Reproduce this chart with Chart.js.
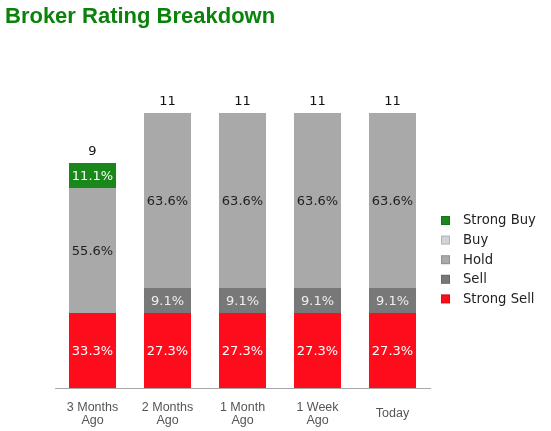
<!DOCTYPE html>
<html>
<head>
<meta charset="utf-8">
<script src="https://cdn.jsdelivr.net/npm/chart.js@4/dist/chart.umd.min.js"></script>
<style>
html,body{margin:0;padding:0;background:#fff;}
#wrap{width:551px;height:431px;position:relative;}
</style>
</head>
<body>
<div id="wrap"><canvas id="c" width="551" height="431"></canvas></div>
<script>
const categories = [["3 Months","Ago"],["2 Months","Ago"],["1 Month","Ago"],["1 Week","Ago"],"Today"];
const seriesNames = ["Strong Sell","Sell","Hold","Buy","Strong Buy"];
const strongSell = [3,3,3,3,3];
const sell = [0,1,1,1,1];
const hold = [5,7,7,7,7];
const buy = [0,0,0,0,0];
const strongBuy = [1,0,0,0,0];
const seriesColors = ["#fe0c1c","#787878","#a9a9a9","#d3d3d3","#1a871a"];
const labelColors = ["#ffffff","#eeeeee","#222222","#222222","#ffffff"];

const seriesValues = [strongSell, sell, hold, buy, strongBuy];
const totals = categories.map((_, i) => seriesValues.reduce((s, arr) => s + arr[i], 0));

const labelsPlugin = {
  id: 'barLabels',
  afterDatasetsDraw(chart) {
    const ctx = chart.ctx;
    ctx.save();
    ctx.font = '13px "DejaVu Sans"';
    ctx.textAlign = 'center';
    ctx.textBaseline = 'middle';
    const topY = categories.map(() => Infinity);
    const xs = categories.map(() => 0);
    chart.data.datasets.forEach((ds, di) => {
      const meta = chart.getDatasetMeta(di);
      meta.data.forEach((bar, i) => {
        const v = ds.data[i];
        xs[i] = bar.x;
        if (!v) return;
        topY[i] = Math.min(topY[i], bar.y);
        const pct = (v / totals[i] * 100).toFixed(1) + '%';
        ctx.fillStyle = labelColors[di];
        ctx.fillText(pct, bar.x, (bar.y + bar.base) / 2 + 1);
      });
    });
    ctx.fillStyle = '#111';
    totals.forEach((t, i) => {
      ctx.fillText(String(t), xs[i], topY[i] - 11);
    });
    ctx.restore();
  }
};

const legendPlugin = {
  id: 'sideLegend',
  afterDraw(chart) {
    const ctx = chart.ctx;
    const x0 = chart.chartArea.right + 11;
    const y0 = 220.5;
    const step = 19.6;
    ctx.save();
    ctx.font = '13.2px "DejaVu Sans"';
    ctx.textAlign = 'left';
    ctx.textBaseline = 'middle';
    const n = seriesNames.length;
    for (let k = 0; k < n; k++) {
      const di = n - 1 - k;
      const y = y0 + k * step;
      ctx.fillStyle = seriesColors[di];
      ctx.fillRect(x0, y - 4.5, 9, 9);
      ctx.strokeStyle = 'rgba(0,0,0,0.15)';
      ctx.lineWidth = 1;
      ctx.strokeRect(x0 + 0.5, y - 4, 8, 8);
      ctx.fillStyle = '#222';
      ctx.fillText(seriesNames[di], x0 + 22, y + 0.5);
    }
    ctx.restore();
  }
};

new Chart(document.getElementById('c'), {
  type: 'bar',
  data: {
    labels: categories,
    datasets: seriesNames.map((name, i) => ({
      label: name,
      data: seriesValues[i],
      backgroundColor: seriesColors[i],
      borderWidth: 0,
      barPercentage: 1,
      categoryPercentage: 0.627
    }))
  },
  options: {
    responsive: false,
    animation: false,
    devicePixelRatio: 1,
    layout: { padding: { left: 5, right: 121, top: 0, bottom: 0 } },
    plugins: {
      legend: { display: false },
      tooltip: { enabled: false },
      title: {
        display: true,
        text: 'Broker Rating Breakdown',
        align: 'start',
        color: '#0b830b',
        font: { family: '"Liberation Sans", Arial', size: 22, weight: 'bold' },
        padding: { top: 4, bottom: 82.6 }
      }
    },
    scales: {
      x: {
        stacked: true,
        grid: { display: false },
        border: { display: true, color: '#a8a8a8', width: 1 },
        ticks: {
          color: '#555555',
          padding: 11.5,
          crossAlign: 'center',
          maxRotation: 0,
          autoSkip: false,
          font: { family: '"Liberation Sans", Arial', size: 12.5, lineHeight: 1.04 }
        },
        afterFit(s) { s.height = 43; }
      },
      y: {
        stacked: true,
        min: 0,
        max: 11,
        grid: { display: false },
        border: { display: false },
        ticks: { display: false },
        afterFit(s) { s.width = 50; }
      }
    }
  },
  plugins: [labelsPlugin, legendPlugin]
});
</script>
</body>
</html>
